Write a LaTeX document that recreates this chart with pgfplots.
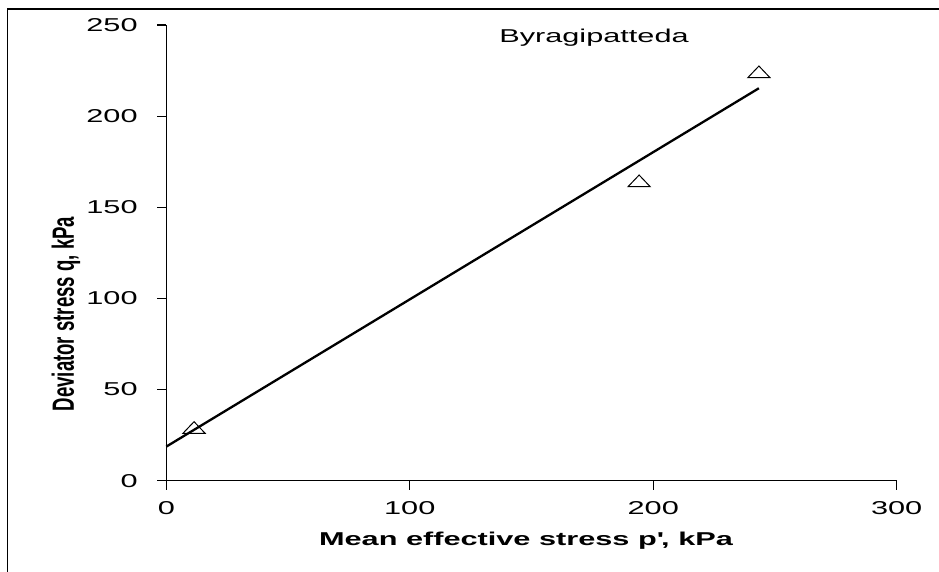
\documentclass[border=0pt]{standalone}
\usepackage{pgfplots}
\pgfplotsset{compat=1.18}
\usepackage{fontspec}
\setmainfont{Liberation Sans}[FakeStretch=1.65]
\newfontfamily\ylabfont{Liberation Sans}[FakeStretch=0.606]
\begin{document}
\begin{tikzpicture}[x=1bp,y=1bp]
\useasboundingbox (-166.3,-91.3) rectangle (772.7,480.7);
\draw[line width=1.5bp] (-159,-100) -- (-159,471.7) -- (780,471.7);
\begin{axis}[
  at={(0,0)}, anchor=south west,
  scale only axis, width=730.4bp, height=455.7bp,
  xmin=0, xmax=300, ymin=0, ymax=250,
  axis lines=left,
  axis line style={line width=1.2bp, -},
  xtick={0,100,200,300}, ytick={0,50,100,150,200,250},
  xticklabels={}, yticklabels={},
  tick align=outside,
  major tick length=9bp,
  tick style={line width=1.2bp, black},
  clip=false,
]
\addplot[only marks, mark=triangle, mark size=7.8bp,
  mark options={xscale=1.65, line width=1bp, black}] coordinates {
  (11.4,28.1) (194.2,163.4) (243.4,223.2)
};
\addplot[black, line width=2.3bp] coordinates {(0,18.7) (243.4,215.3)};
\pgfplotsinvokeforeach{0,50,100,150,200,250}{
  \node[anchor=east, inner sep=0pt, font=\fontsize{18.6bp}{20bp}\selectfont, xshift=-28.5bp] at (axis cs:0,#1) {#1};
}
\pgfplotsinvokeforeach{0,100,200,300}{
  \node[anchor=north, inner sep=0pt, font=\fontsize{18.6bp}{20bp}\selectfont, yshift=-21bp] at (axis cs:#1,0) {#1};
}
\end{axis}
\node[anchor=base, font=\fontsize{18.6bp}{20bp}\selectfont] at (427.7,438) {Byragipatteda};
\node[anchor=base, font=\fontsize{18.6bp}{20bp}\selectfont\bfseries] at (359.7,-65.3) {Mean effective stress p\textquotesingle, kPa};
\node[anchor=base, rotate=90, font=\fontsize{30.7bp}{32bp}\ylabfont\bfseries] at (-92.3,166.7) {Deviator stress q, kPa};
\end{tikzpicture}
\end{document}
